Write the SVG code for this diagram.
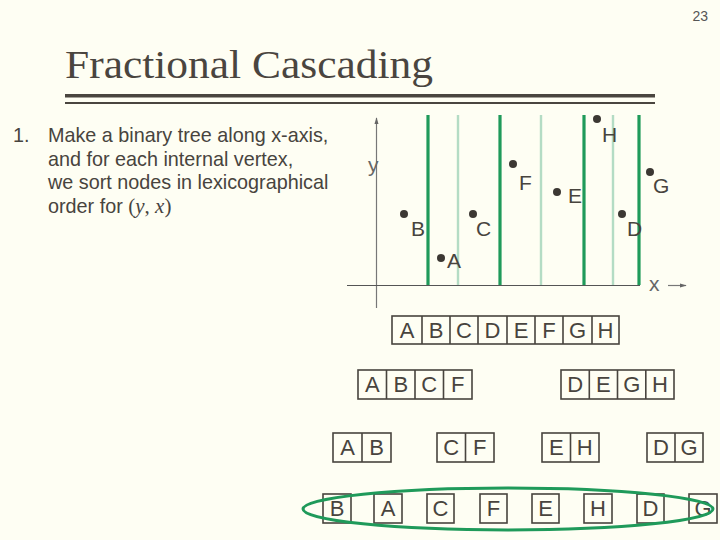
<svg xmlns="http://www.w3.org/2000/svg" width="720" height="540" viewBox="0 0 720 540">
<style>
.bg{fill:#fefef3}
.t{font-family:"Liberation Sans",Arial,sans-serif;fill:#48443e}
.body{font-size:19.8px}
.m{font-family:"Liberation Serif","Times New Roman",serif;font-size:21px}
.mi{font-family:"Liberation Serif","Times New Roman",serif;font-size:21px;font-style:italic}
.lbl{font-size:21px}
.box{fill:none;stroke:#48443e;stroke-width:1.6}
.cell{font-family:"Liberation Sans",Arial,sans-serif;font-size:22px;fill:#48443e;text-anchor:middle}
.dk{stroke:#1f9a5a;stroke-width:3.2}
.lt{stroke:#b4dcc4;stroke-width:2.4}
.axis{stroke:#777;stroke-width:1.2;fill:none}
.dot{fill:#3c3833}
</style>
<defs>
<marker id="ah" viewBox="0 0 10 10" refX="9" refY="5" markerWidth="6" markerHeight="6" orient="auto"><path d="M0,2 L10,5 L0,8 z" fill="#666"/></marker>
</defs>
<rect class="bg" x="0" y="0" width="720" height="540"/>
<text x="708" y="21" text-anchor="end" style="font-family:'Liberation Sans',Arial,sans-serif;font-size:14px;fill:#555">23</text>
<text x="65" y="78" textLength="368" lengthAdjust="spacingAndGlyphs" style="font-family:'Liberation Serif','Times New Roman',serif;font-size:41px;fill:#4a453f">Fractional Cascading</text>
<rect x="65" y="94" width="590" height="3.5" fill="#4a453f"/>
<rect x="65" y="102" width="590" height="2" fill="#4a453f"/>
<g id="bullet">
<text class="t body" x="13" y="142">1.</text>
<text class="t body" x="48" y="142">Make a binary tree along x-axis,</text>
<text class="t body" x="48" y="165.5">and for each internal vertex,</text>
<text class="t body" x="48" y="189">we sort nodes in lexicographical</text>
<text class="t body" x="48" y="212.5">order for <tspan class="m">(</tspan><tspan class="mi">y</tspan><tspan class="m">, </tspan><tspan class="mi">x</tspan><tspan class="m">)</tspan></text>
</g>
<g id="plot">
<line class="lt" x1="458" y1="115" x2="458" y2="285"/>
<line class="lt" x1="541" y1="115" x2="541" y2="285"/>
<line class="lt" x1="613" y1="115" x2="613" y2="285"/>
<line class="dk" x1="428" y1="115" x2="428" y2="285"/>
<line class="dk" x1="500" y1="115" x2="500" y2="285"/>
<line class="dk" x1="584" y1="115" x2="584" y2="285"/>
<line class="dk" x1="639" y1="115" x2="639" y2="285"/>
<line class="axis" x1="376.5" y1="308" x2="376.5" y2="118" marker-end="url(#ah)"/>
<line class="axis" x1="347" y1="285.5" x2="640" y2="285.5" style="stroke:#555"/>
<line class="axis" x1="668" y1="285.5" x2="686" y2="285.5" marker-end="url(#ah)"/>
<text class="t lbl" x="368" y="172" style="fill:#666">y</text>
<text class="t lbl" x="649" y="291" style="fill:#666">x</text>
</g>
<g id="points">
<circle class="dot" cx="597" cy="119" r="4"/><text class="t lbl" x="602" y="142">H</text>
<circle class="dot" cx="513" cy="164" r="4"/><text class="t lbl" x="519" y="190">F</text>
<circle class="dot" cx="557" cy="192" r="4"/><text class="t lbl" x="568" y="203">E</text>
<circle class="dot" cx="650" cy="172" r="4"/><text class="t lbl" x="653" y="193">G</text>
<circle class="dot" cx="404" cy="214" r="4"/><text class="t lbl" x="411" y="236">B</text>
<circle class="dot" cx="473" cy="214" r="4"/><text class="t lbl" x="476" y="236">C</text>
<circle class="dot" cx="622" cy="214" r="4"/><text class="t lbl" x="627" y="236">D</text>
<circle class="dot" cx="441" cy="258" r="4"/><text class="t lbl" x="447" y="268">A</text>
</g>
<g id="row1">
<rect class="box" x="392" y="316" width="227" height="28"/>
<path class="box" d="M422,316V344M450,316V344M478,316V344M507,316V344M535,316V344M563,316V344M592,316V344"/>
<text class="cell" x="407" y="338">A</text><text class="cell" x="436" y="338">B</text><text class="cell" x="464" y="338">C</text><text class="cell" x="492.5" y="338">D</text><text class="cell" x="521" y="338">E</text><text class="cell" x="549" y="338">F</text><text class="cell" x="577.5" y="338">G</text><text class="cell" x="605.5" y="338">H</text>
</g>
<g id="row2-left">
<rect class="box" x="358" y="370" width="114" height="29"/>
<path class="box" d="M386.5,370V399M415,370V399M443.5,370V399"/>
<text class="cell" x="372.3" y="392">A</text><text class="cell" x="400.8" y="392">B</text><text class="cell" x="429.3" y="392">C</text><text class="cell" x="457.8" y="392">F</text>
</g>
<g id="row2-right">
<rect class="box" x="561" y="370" width="113" height="29"/>
<path class="box" d="M589.3,370V399M617.5,370V399M645.8,370V399"/>
<text class="cell" x="575.2" y="392">D</text><text class="cell" x="603.4" y="392">E</text><text class="cell" x="631.7" y="392">G</text><text class="cell" x="659.9" y="392">H</text>
</g>
<g id="row3-ab"><rect class="box" x="333" y="433" width="58" height="29"/><path class="box" d="M362,433V462"/><text class="cell" x="347.5" y="455">A</text><text class="cell" x="376.5" y="455">B</text></g>
<g id="row3-cf"><rect class="box" x="437" y="433" width="57" height="29"/><path class="box" d="M465.5,433V462"/><text class="cell" x="451.3" y="455">C</text><text class="cell" x="479.8" y="455">F</text></g>
<g id="row3-eh"><rect class="box" x="542" y="433" width="57" height="29"/><path class="box" d="M570.5,433V462"/><text class="cell" x="556.3" y="455">E</text><text class="cell" x="584.8" y="455">H</text></g>
<g id="row3-dg"><rect class="box" x="647" y="433" width="56" height="29"/><path class="box" d="M675,433V462"/><text class="cell" x="661" y="455">D</text><text class="cell" x="689" y="455">G</text></g>
<g id="leaves">
<g id="leaf-b"><rect class="box" x="323" y="494" width="28" height="29"/><text class="cell" x="337" y="516">B</text></g>
<g id="leaf-a"><rect class="box" x="374" y="494" width="28" height="29"/><text class="cell" x="388" y="516">A</text></g>
<g id="leaf-c"><rect class="box" x="427" y="494" width="27" height="29"/><text class="cell" x="440.5" y="516">C</text></g>
<g id="leaf-f"><rect class="box" x="480" y="494" width="27" height="29"/><text class="cell" x="493.5" y="516">F</text></g>
<g id="leaf-e"><rect class="box" x="532" y="494" width="27" height="29"/><text class="cell" x="545.5" y="516">E</text></g>
<g id="leaf-h"><rect class="box" x="584" y="494" width="28" height="29"/><text class="cell" x="598" y="516">H</text></g>
<g id="leaf-d"><rect class="box" x="637" y="494" width="27" height="29"/><text class="cell" x="650.5" y="516">D</text></g>
<g id="leaf-g"><rect class="box" x="689" y="494" width="28" height="29"/><text class="cell" x="703" y="516">G</text></g>
</g>
<ellipse cx="508" cy="509" rx="205" ry="21" fill="none" stroke="#1f9a5a" stroke-width="3"/>
</svg>
